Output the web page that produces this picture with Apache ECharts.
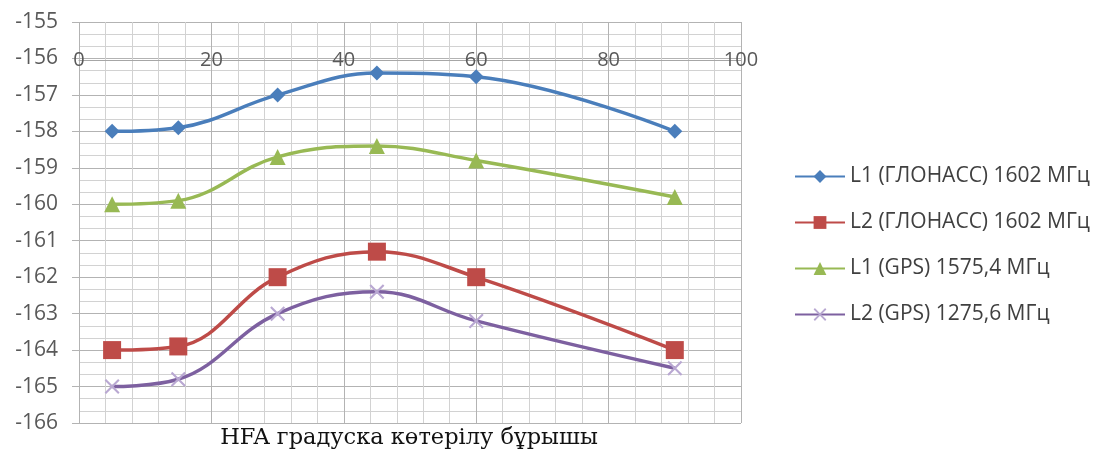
<!DOCTYPE html>
<html><head><meta charset="utf-8">
<script src="https://cdn.jsdelivr.net/npm/echarts@6/dist/echarts.min.js"></script>
<style>html,body{margin:0;padding:0;background:#fff}#c{width:1097px;height:452px}</style>
</head><body><div id="c"></div>
<script>
const angles = [5, 15, 30, 45, 60, 90];
const l1Glonass = [-158.0, -157.9, -157.0, -156.4, -156.5, -158.0];
const l2Glonass = [-164.0, -163.9, -162.0, -161.3, -162.0, -164.0];
const l1Gps = [-160.0, -159.9, -158.7, -158.4, -158.8, -159.8];
const l2Gps = [-165.0, -164.8, -163.0, -162.4, -163.2, -164.5];
const seriesNames = ['L1 (ГЛОНАСС) 1602 МГц', 'L2 (ГЛОНАСС) 1602 МГц', 'L1 (GPS) 1575,4 МГц', 'L2 (GPS) 1275,6 МГц'];
const xTitle = 'HFA градуска көтерілу бұрышы';

const crossPath = 'path://M0,1 L1,0 L5,4 L9,0 L10,1 L6,5 L10,9 L9,10 L5,6 L1,10 L0,9 L4,5 Z';
function pts(v){ return angles.map((a,i)=>[a,v[i]]); }
const chart = echarts.init(document.getElementById('c'));
const mk = (name, data, color, symbol, size, symColor) => ({
  name, type:'line', data: pts(data), smooth: 0.4, symbol, symbolSize: size,
  lineStyle:{color, width:3.5}, itemStyle:{color: symColor || color}, z: 3
});
chart.setOption({
  animation:false,
  textStyle:{fontFamily:'"Open Sans", "Liberation Sans", sans-serif'},
  grid:{left:79, top:22, width:662, height:401},
  legend:{
    orient:'vertical', left:789, top:161, itemGap:25, itemWidth:50, itemHeight:16,
    textStyle:{fontSize:21, lineHeight:21, color:'#404040', fontFamily:'"Open Sans", sans-serif'},
    data: seriesNames
  },
  title:{
    text: xTitle, left: 404, top: 422, textAlign:'center',
    textStyle:{fontFamily:'"DejaVu Serif", serif', fontSize:22.5, fontWeight:'normal', color:'#111'}
  },
  xAxis:{
    type:'value', min:0, max:100, interval:20, position:'top', offset:-38,
    axisLine:{show:true, lineStyle:{color:'#a6a6a6'}}, axisTick:{show:false},
    axisLabel:{margin:0, verticalAlign:'middle', fontSize:20, color:'#595959'},
    splitLine:{show:true, lineStyle:{color:'#b3b3b3', width:1}},
    minorTick:{show:false, splitNumber:5},
    minorSplitLine:{show:true, lineStyle:{color:'#d2d2d2', width:1}}
  },
  yAxis:{
    type:'value', min:-166, max:-155, interval:1,
    axisLine:{show:false},
    axisTick:{show:true, length:7, lineStyle:{color:'#b3b3b3'}},
    axisLabel:{fontSize:21, color:'#595959', margin:21},
    splitLine:{show:true, lineStyle:{color:'#b3b3b3', width:1}},
    minorTick:{show:false, splitNumber:3},
    minorSplitLine:{show:true, lineStyle:{color:'#d2d2d2', width:1}}
  },
  series:[
    mk(seriesNames[0], l1Glonass, '#4a7ebb', 'diamond', 15),
    mk(seriesNames[1], l2Glonass, '#be4b48', 'rect', 18),
    mk(seriesNames[2], l1Gps, '#98b954', 'triangle', 16),
    mk(seriesNames[3], l2Gps, '#7d60a0', crossPath, 15, '#b9a8d2')
  ]
});
</script></body></html>
